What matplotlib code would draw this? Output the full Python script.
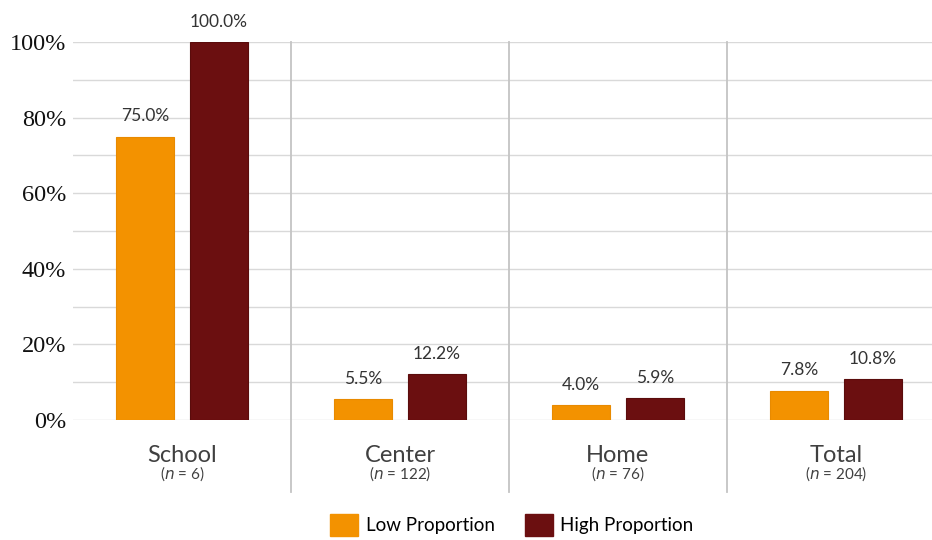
import numpy as np
import matplotlib.pyplot as plt
import matplotlib.transforms as mtransforms

categories = ['School', 'Center', 'Home', 'Total']
sample_sizes = [6, 122, 76, 204]
low_prop = [75.0, 5.5, 4.0, 7.8]
high_prop = [100.0, 12.2, 5.9, 10.8]
y_ticks = [0, 20, 40, 60, 80, 100]

orange = '#F39200'
maroon = '#6B0F10'
grid_col = '#D9D9D9'
sep_col = '#C4C4C4'

fig = plt.figure(figsize=(9.32, 5.40), dpi=100)
ax = fig.add_axes([73 / 932, 120 / 540, 872 / 932, 378 / 540])

x = np.arange(len(categories))
w = 0.266
off = 0.17

ax.bar(x - off, low_prop, w, color=orange, edgecolor='#E88A00', linewidth=0.8, zorder=3)
ax.bar(x + off, high_prop, w, color=maroon, edgecolor='#5A0C0C', linewidth=0.8, zorder=3)

for xi, v in zip(x - off, low_prop):
    ax.text(xi, v + 3.2, f'{v:.1f}%', ha='center', va='bottom', fontsize=12.5,
            family='Lato', color='#333333')
for xi, v in zip(x + off, high_prop):
    ax.text(xi, v + 3.2, f'{v:.1f}%', ha='center', va='bottom', fontsize=12.5,
            family='Lato', color='#333333')

ax.set_xlim(-0.5, len(categories) - 0.5)
ax.set_ylim(0, 100)

# horizontal gridlines every 10%
for g in range(0, 101, 10):
    ax.axhline(g, color=grid_col, linewidth=1.0, zorder=1)

# vertical separators between groups, reaching under the category labels
trans = mtransforms.blended_transform_factory(ax.transData, ax.transAxes)
for s in x[:-1] + 0.5:
    ax.plot([s, s], [-0.19, 1.0], color=sep_col, linewidth=1.3, transform=trans,
            clip_on=False, zorder=2)

for xi, name, n in zip(x, categories, sample_sizes):
    ax.text(xi, -0.094, name, transform=trans, ha='center', va='center',
            fontsize=17, family='Lato', color='#404040')
    ax.text(xi, -0.143, f'($n$ = {n})', transform=trans, ha='center', va='center',
            fontsize=11, family='Lato', color='#404040')

ax.set_yticks(y_ticks)
ax.set_yticklabels([f'{t}%' for t in y_ticks], family='Liberation Serif',
                   fontsize=17.5, color='#111111')
ax.tick_params(axis='y', length=0, pad=5)
ax.set_xticks([])
for sp in ax.spines.values():
    sp.set_visible(False)

handles = [plt.Rectangle((0, 0), 1, 1, color=orange),
           plt.Rectangle((0, 0), 1, 1, color=maroon)]
fig.legend(handles, ['Low Proportion', 'High Proportion'], loc='center',
           bbox_to_anchor=(512 / 932, 1 - 525 / 540), ncol=2, frameon=False,
           prop={'family': 'Lato', 'size': 13.5}, handlelength=1.5, handleheight=1.5,
           handletextpad=0.4, columnspacing=1.6)

fig.savefig('out.png', dpi=100, facecolor='white')
